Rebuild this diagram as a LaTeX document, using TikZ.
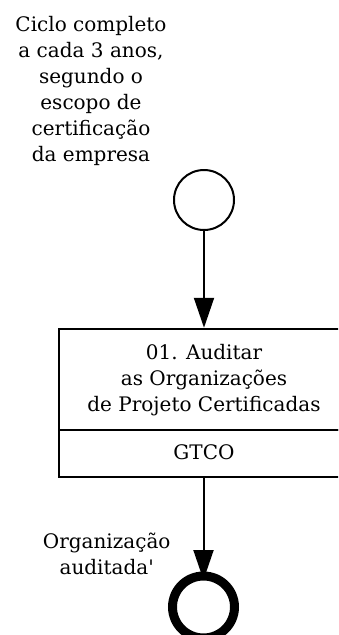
\documentclass[tikz,border=0pt]{standalone}
\usepackage{fontspec}
\newfontfamily\diagserif{DejaVu Serif}
\usetikzlibrary{arrows.meta}
\tikzset{
  lbl/.style={align=center, inner sep=0pt, font=\diagserif\fontsize{20}{26}\selectfont},
  startev/.style={circle, draw, line width=2pt, minimum size=60pt, inner sep=0pt},
  endev/.style={circle, draw, line width=9pt, minimum size=62pt, inner sep=0pt, outer sep=0pt},
  partbox/.style={rectangle, draw, line width=2.5pt, minimum width=290pt, inner sep=0pt},
  flow/.style={draw, line width=2pt, -{Triangle[length=30pt,width=20pt]}}
}
\begin{document}
\begin{tikzpicture}[x=1pt,y=-1pt]
\clip (0,0) rectangle (338,635);
\useasboundingbox (0,0) rectangle (338,635);
\node[lbl] (note) at (91,91) {Ciclo completo\\a cada 3 anos,\\segundo o\\escopo de\\certificação\\da empresa};
\node[startev] (start) at (204,200) {};
\node[partbox, minimum height=101pt] (title) at (204,379.5) {};
\node[lbl, align=center] (titletext) at (204,380) {\fontsize{20}{25}\selectfont 01. Auditar\\as Organizações\\de Projeto Certificadas};
\node[partbox, minimum height=47pt] (role) at (204,453.5) {};
\node[lbl] (roletext) at (204,452.5) {GTCO};
\node[endev] (end) at (203.5,607) {};
\draw[flow] (start) -- (title);
\draw[flow, shorten >=-4pt] (role.south -| end) -- node[lbl, pos=0.77, anchor=east, xshift=-32pt] (outlbl) {Organização\\auditada'} (end);
\end{tikzpicture}
\end{document}
